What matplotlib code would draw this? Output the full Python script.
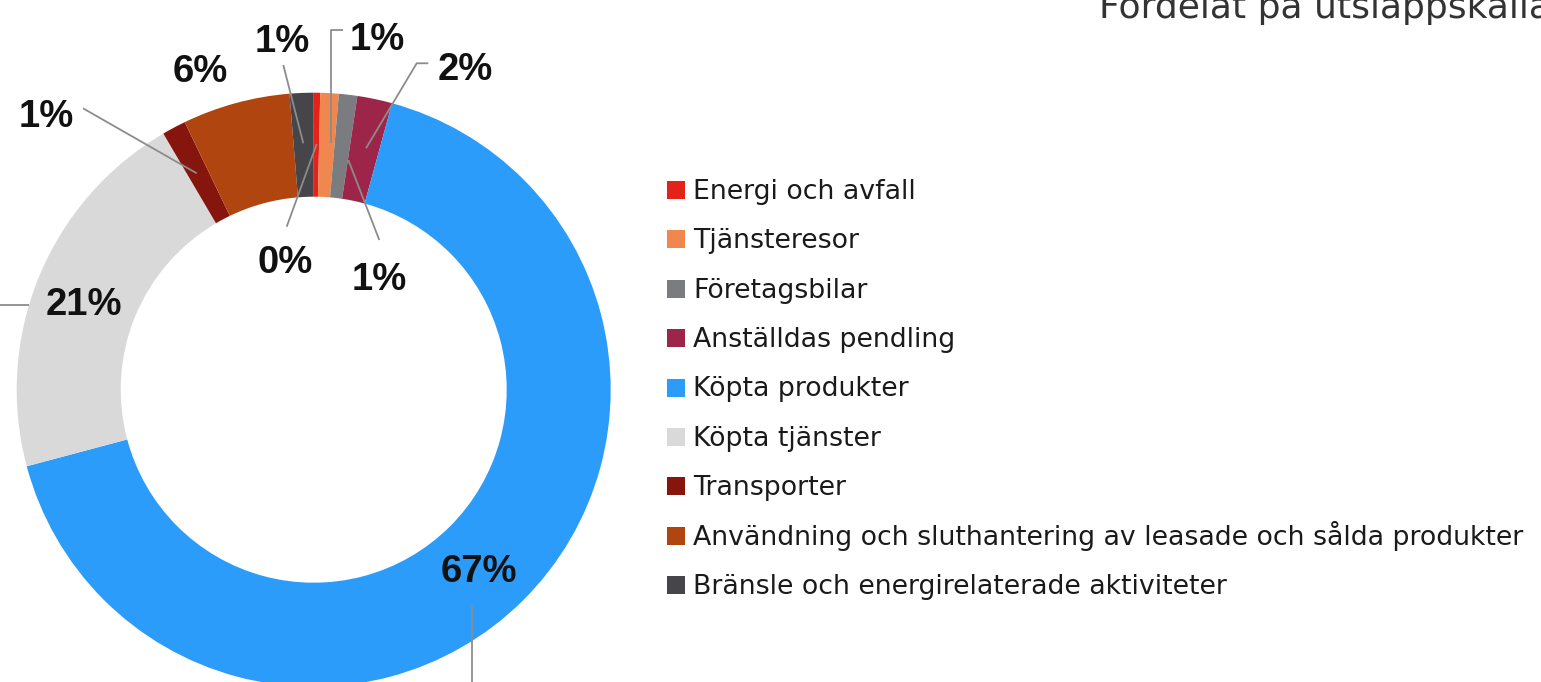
import matplotlib
matplotlib.use("Agg")
import matplotlib.pyplot as plt
from matplotlib.patches import Rectangle

# ---- data ----
categories = [
    "Energi och avfall",
    "Tjänsteresor",
    "Företagsbilar",
    "Anställdas pendling",
    "Köpta produkter",
    "Köpta tjänster",
    "Transporter",
    "Användning och sluthantering av leasade och sålda produkter",
    "Bränsle och energirelaterade aktiviteter",
]
values = [0.35, 1.0, 1.0, 1.9, 66.6, 20.7, 1.3, 5.85, 1.3]
colors = ["#E3231A", "#F0874E", "#7B7C80", "#9C2549", "#2C9CFB",
          "#D9D9D9", "#86150E", "#B1450F", "#45454A"]
title = "Fördelat på utsläppskälla"

# ---- layout (pixel coordinates of a 1541x682 canvas, y from top) ----
W, H = 1541, 682
fig = plt.figure(figsize=(W / 100, H / 100), dpi=100)
ax = fig.add_axes([0, 0, 1, 1])

cx, cy = 313.7, H - 389.7
R_out, ring = 297, 104

wedges, _ = ax.pie(values, colors=colors, startangle=90, counterclock=False,
                   radius=R_out, center=(cx, cy), frame=False,
                   wedgeprops=dict(width=ring, linewidth=0))
ax.set_xlim(0, W)
ax.set_ylim(0, H)
ax.set_aspect("equal")
ax.axis("off")

# label positions: (x center, baseline y from top) and leader line points
label_pos = [
    ((285.5, 273), [(286.7, 226.7), (316.7, 144)]),
    ((377.5, 50), [(342.7, 30), (331, 30), (331, 143)]),
    ((379, 290), [(379.3, 240), (348.3, 160)]),
    ((465, 80), [(428.3, 63.3), (416.7, 63.3), (366, 148.3)]),
    ((479, 581.7), [(471.7, 606), (471.7, 690)]),
    ((84, 315), [(-10, 305), (29.5, 305)]),
    ((46, 127), [(83, 108.3), (196.7, 173.3)]),
    ((200, 82), []),
    ((282, 51.7), [(283.3, 65), (303.3, 143.3)]),
]

for v, ((tx, ty), pts) in zip(values, label_pos):
    ax.text(tx, H - ty, f"{v:.0f}%", ha="center", va="baseline",
            fontsize=27.5, fontweight="bold", family="Liberation Sans",
            color="#111111")
    if pts:
        ax.plot([p[0] for p in pts], [H - p[1] for p in pts],
                color="#8C8C8C", lw=1.3, solid_capstyle="butt", clip_on=False)

# legend (manual)
sq = 18
row0, step = 190, 49.4
for i, (lab, col) in enumerate(zip(categories, colors)):
    yc = row0 + i * step
    ax.add_patch(Rectangle((667, H - yc - sq / 2), sq, sq, facecolor=col,
                           edgecolor="none"))
    ax.text(693, H - yc - 8.8, lab, ha="left", va="baseline",
            fontsize=19.3, family="DejaVu Sans", color="#1a1a1a")

ax.text(1099, H - 18, title, ha="left", va="baseline", fontsize=26,
        family="DejaVu Sans", color="#333333")

fig.savefig("out.png", dpi=100)
